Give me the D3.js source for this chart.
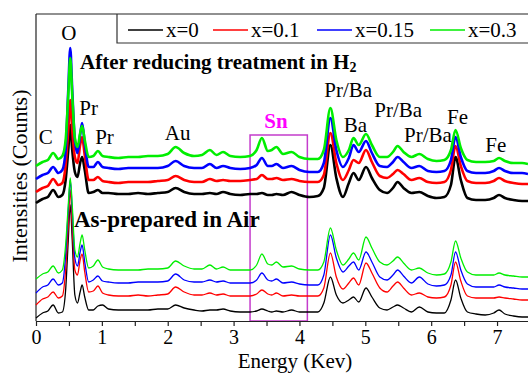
<!DOCTYPE html>
<html>
<head>
<meta charset="utf-8">
<script src="https://cdn.jsdelivr.net/npm/d3@7"></script>
<style>
  body { margin: 0; background: #fff; }
  svg { display: block; font-family: "Liberation Serif", "DejaVu Serif", serif; }
</style>
</head>
<body>
<svg id="chart" width="528" height="373" font-family="Liberation Serif, serif"></svg>
<script>
// energy grid (keV), shared by all spectra
const energy = [0.00,0.10,0.18,0.26,0.34,0.40,0.45,0.49,0.52,0.55,
  0.59,0.63,0.67,0.70,0.74,0.80,0.87,0.94,1.01,1.10,
  1.25,1.40,1.55,1.70,1.85,2.00,2.12,2.25,2.40,2.52,
  2.64,2.74,2.84,2.95,3.10,3.25,3.35,3.43,3.52,3.58,
  3.65,3.75,3.88,4.00,4.15,4.28,4.37,4.47,4.56,4.66,
  4.75,4.82,4.90,5.01,5.10,5.22,5.33,5.42,5.49,5.58,
  5.70,5.82,5.95,6.08,6.20,6.30,6.37,6.45,6.55,6.68,
  6.82,6.95,7.03,7.12,7.25,7.38,7.47];

const seriesNames = ["x=0", "x=0.1", "x=0.15", "x=0.3"];
const seriesColors = ["#000000", "#ff0000", "#0000ff", "#00ee00"];

// after reducing treatment in H2 (stacked, arbitrary counts)
const reducedX0 = [118,122,124,131,124,126,141,171,196,171,
  149,144,158,164,151,128,129,131,128,128,
  127,127,128,127,128,129,133,129,127,127,
  128,127,129,127,126,127,127,128,126,126,
  127,126,129,126,124,125,133,176,143,124,
  138,148,141,154,143,131,128,133,139,133,
  128,129,125,123,124,136,164,141,123,121,
  121,123,126,123,121,120,120];
const reducedX01 = [129,133,135,142,136,138,156,191,221,191,
  164,158,176,184,166,141,141,144,140,139,
  138,139,139,139,140,141,145,141,139,139,
  142,140,141,140,140,141,142,146,142,142,
  143,141,142,140,139,139,146,188,158,141,
  151,161,158,171,159,145,143,147,151,147,
  141,143,139,138,139,151,175,155,140,138,
  138,140,143,140,138,137,137];
const reducedX015 = [142,146,148,154,148,151,171,231,273,231,
  181,168,186,198,178,154,154,159,154,153,
  152,153,153,153,153,155,160,155,153,153,
  157,153,155,153,152,153,156,163,155,155,
  157,153,155,151,149,149,158,203,171,154,
  163,176,169,180,168,155,154,159,164,159,
  153,155,150,149,150,161,184,164,150,148,
  148,150,153,150,148,148,147];
const reducedX03 = [155,159,161,168,162,165,181,226,263,226,
  183,174,188,195,181,164,165,170,165,164,
  163,164,164,165,165,167,174,168,165,166,
  171,166,169,165,164,165,171,183,170,171,
  174,167,169,164,162,162,171,213,181,164,
  171,183,176,187,176,164,164,169,175,169,
  164,167,162,160,161,171,191,173,161,159,
  159,160,163,160,158,158,157];

// as-prepared in air
const airX0 = [3,8,10,16,8,9,31,81,116,81,
  26,18,29,36,24,11,11,15,16,12,
  11,11,11,11,12,12,16,13,11,10,
  11,11,12,10,9,9,10,12,10,9,
  10,9,11,9,9,9,18,44,26,18,
  21,24,19,33,24,13,11,14,16,13,
  9,14,9,8,8,21,41,23,9,7,
  6,8,11,7,5,4,4];
const airX01 = [16,22,24,29,23,25,51,96,131,96,
  51,46,61,67,49,29,30,35,28,26,
  25,25,26,25,26,27,34,29,26,26,
  28,26,27,25,25,25,27,31,27,26,
  28,25,26,25,25,25,33,68,44,32,
  38,43,36,58,48,33,29,35,39,33,
  26,28,24,23,24,36,59,40,25,23,
  23,23,24,23,22,21,21];
const airX015 = [28,34,36,42,36,38,66,111,141,111,
  63,55,69,76,59,39,41,45,40,39,
  38,38,39,39,39,40,47,41,39,39,
  41,39,40,38,38,38,41,48,41,40,
  42,38,39,37,36,36,46,86,63,49,
  55,59,51,69,59,44,41,46,51,45,
  38,44,37,35,36,46,69,51,37,34,
  34,34,36,34,33,32,32];
const airX03 = [42,47,49,55,48,51,76,116,143,116,
  71,64,78,86,71,53,55,61,54,52,
  51,51,51,52,52,53,60,55,52,52,
  56,52,54,51,51,51,56,67,57,56,
  59,54,55,52,51,51,59,93,71,56,
  62,68,61,84,73,59,56,60,64,58,
  51,53,48,46,47,59,80,63,49,46,
  46,46,48,46,45,44,44];

const xTicks = [0,0.5,1,1.5,2,2.5,3,3.5,4,4.5,5,5.5,6,6.5,7,7.5];

// peak labels: [text, energy, counts]
const peakLabels = [
  ["O", 0.50, 281],
  ["Pr", 0.80, 206],
  ["Pr", 1.04, 177],
  ["C", 0.15, 177],
  ["Au", 2.15, 181],
  ["Pr/Ba", 4.74, 224],
  ["Ba", 4.85, 189],
  ["Pr/Ba", 5.5, 204],
  ["Pr/Ba", 5.95, 179],
  ["Fe", 6.40, 197],
  ["Fe", 6.98, 169]
];
const snBox = [3.25, 4.12, 0, 186];

const svg = d3.select("#chart");
const x = d3.scaleLinear().domain([0, 7.47]).range([36, 528]);
const y = d3.scaleLinear().domain([0, 307]).range([321, 14]);

const line = d3.line()
  .x((d, i) => x(energy[i]))
  .y(d => y(d))
  .curve(d3.curveMonotoneX);

// frame
svg.append("line").attr("x1", 36).attr("x2", 528).attr("y1", 14).attr("y2", 14)
  .attr("stroke", "#222").attr("stroke-width", 1.2);
svg.append("line").attr("x1", 36).attr("x2", 36).attr("y1", 14).attr("y2", 321)
  .attr("stroke", "#222").attr("stroke-width", 1.2);

// Sn box
svg.append("rect")
  .attr("x", x(snBox[0])).attr("y", y(snBox[3]))
  .attr("width", x(snBox[1]) - x(snBox[0])).attr("height", y(snBox[2]) - y(snBox[3]))
  .attr("fill", "none").attr("stroke", "#c43ccc").attr("stroke-width", 1.5);

// spectra
const airSets = [airX0, airX01, airX015, airX03];
const reducedSets = [reducedX0, reducedX01, reducedX015, reducedX03];

airSets.forEach((s, i) => {
  svg.append("path").datum(s).attr("d", line)
    .attr("fill", "none").attr("stroke", seriesColors[i]).attr("stroke-width", 1.3);
});
reducedSets.forEach((s, i) => {
  svg.append("path").datum(s).attr("d", line)
    .attr("fill", "none").attr("stroke", seriesColors[i]).attr("stroke-width", 2.6)
    .attr("stroke-linejoin", "round");
});

// x axis
const xAxis = d3.axisBottom(x)
  .tickValues(xTicks)
  .tickSize(5)
  .tickSizeOuter(0)
  .tickPadding(4)
  .tickFormat(d => Number.isInteger(d) ? d : "");
const gx = svg.append("g").attr("transform", "translate(0,321)").call(xAxis)
  .attr("font-family", "Liberation Serif, serif");
gx.select(".domain").attr("stroke", "#222").attr("stroke-width", 1.2);
gx.selectAll(".tick line").attr("stroke", "#222").attr("stroke-width", 1.2);
gx.selectAll(".tick text").attr("font-size", 20).attr("fill", "#000");

svg.append("text").attr("x", 295).attr("y", 368).attr("text-anchor", "middle")
  .attr("font-size", 21).text("Energy (Kev)");
svg.append("text").attr("transform", "translate(27,176) rotate(-90)")
  .attr("text-anchor", "middle").attr("font-size", 22).text("Intensities (Counts)");

// peak labels
peakLabels.forEach(p => {
  svg.append("text").attr("x", x(p[1])).attr("y", y(p[2]))
    .attr("text-anchor", "middle").attr("font-size", 21).text(p[0]);
});
svg.append("text").attr("x", 276).attr("y", 128).attr("text-anchor", "middle")
  .attr("font-size", 21).attr("font-weight", "bold").attr("fill", "#ff00ff").text("Sn");

const t1 = svg.append("text").attr("x", 80).attr("y", 69)
  .attr("font-size", 21).attr("font-weight", "bold");
t1.append("tspan").text("After reducing treatment in H");
t1.append("tspan").attr("font-size", 14).attr("dy", 3).text("2");
svg.append("text").attr("x", 74).attr("y", 227)
  .attr("font-size", 23).attr("font-weight", "bold").text("As-prepared in Air");

// legend
svg.append("path").attr("d", "M528,43H117V14")
  .attr("fill", "none").attr("stroke", "#333").attr("stroke-width", 1.2);
const legendX = [128, 213, 317, 430];
seriesNames.forEach((n, i) => {
  svg.append("line").attr("x1", legendX[i]).attr("x2", legendX[i] + 35)
    .attr("y1", 30).attr("y2", 30).attr("stroke", seriesColors[i]).attr("stroke-width", 1.3);
  svg.append("text").attr("x", legendX[i] + 38).attr("y", 37)
    .attr("font-size", 21).text(n);
});
</script>
</body>
</html>
